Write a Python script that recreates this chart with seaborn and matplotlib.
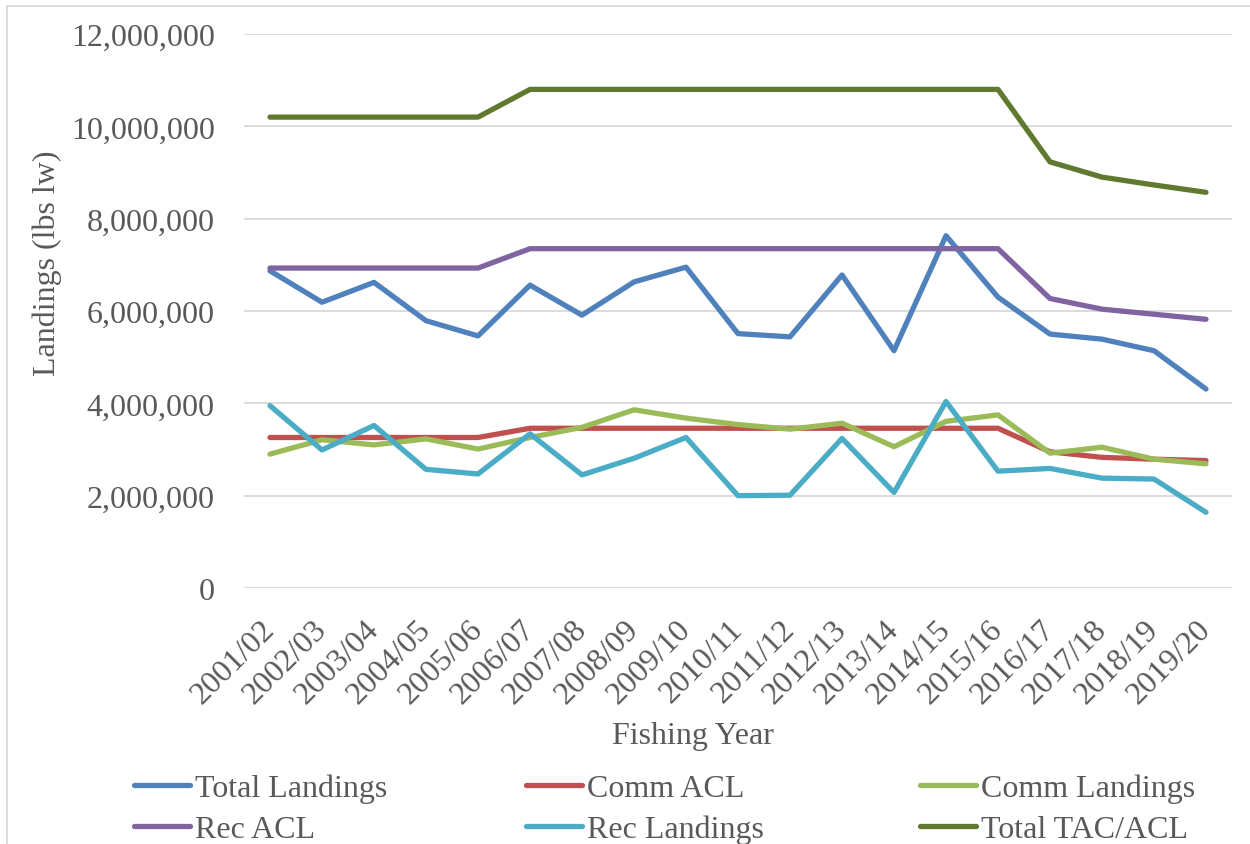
import pandas as pd
import matplotlib.pyplot as plt
import matplotlib.ticker as mticker
from matplotlib.lines import Line2D
from matplotlib.transforms import ScaledTranslation
import seaborn as sns

# Données (livres, poids vif)
annees = ['2001/02', '2002/03', '2003/04', '2004/05', '2005/06', '2006/07', '2007/08',
          '2008/09', '2009/10', '2010/11', '2011/12', '2012/13', '2013/14', '2014/15',
          '2015/16', '2016/17', '2017/18', '2018/19', '2019/20']

total_landings = [6870000, 6190000, 6620000, 5790000, 5460000, 6560000, 5910000, 6630000,
                  6950000, 5510000, 5440000, 6780000, 5140000, 7630000, 6300000, 5500000,
                  5390000, 5140000, 4310000]
comm_acl = [3260000, 3260000, 3260000, 3260000, 3260000, 3460000, 3460000, 3460000,
            3460000, 3460000, 3460000, 3460000, 3460000, 3460000, 3460000, 2950000,
            2830000, 2790000, 2760000]
comm_landings = [2900000, 3210000, 3100000, 3230000, 3010000, 3260000, 3480000, 3860000,
                 3680000, 3540000, 3440000, 3570000, 3060000, 3610000, 3750000, 2920000,
                 3050000, 2790000, 2690000]
rec_acl = [6930000, 6930000, 6930000, 6930000, 6930000, 7350000, 7350000, 7350000,
           7350000, 7350000, 7350000, 7350000, 7350000, 7350000, 7350000, 6270000,
           6040000, 5930000, 5820000]
rec_landings = [3950000, 2990000, 3520000, 2570000, 2470000, 3340000, 2450000, 2810000,
                3260000, 2000000, 2010000, 3240000, 2070000, 4040000, 2530000, 2590000,
                2380000, 2360000, 1640000]
total_tac = [10200000, 10200000, 10200000, 10200000, 10200000, 10800000, 10800000, 10800000,
             10800000, 10800000, 10800000, 10800000, 10800000, 10800000, 10800000, 9230000,
             8900000, 8730000, 8570000]

series = {
    "Total Landings": total_landings,
    "Comm ACL": comm_acl,
    "Comm Landings": comm_landings,
    "Rec ACL": rec_acl,
    "Rec Landings": rec_landings,
    "Total TAC/ACL": total_tac,
}
couleurs = {
    "Total Landings": "#4F81BD",
    "Comm ACL": "#C0504D",
    "Comm Landings": "#9BBB59",
    "Rec ACL": "#8064A2",
    "Rec Landings": "#4BACC6",
    "Total TAC/ACL": "#5F7A2F",
}

df = pd.DataFrame(series, index=annees).reset_index(names="annee")
df = df.melt(id_vars="annee", var_name="serie", value_name="valeur")

sns.set_style("white")
plt.rcParams['font.family'] = ['Liberation Serif', 'DejaVu Serif']
gris = "#595959"
taille = 23

fig = plt.figure(figsize=(12.5, 8.45), dpi=100)
ax = fig.add_axes([244 / 1250, 1 - 589 / 845, (1232 - 244) / 1250, (589 - 35) / 845])

sns.lineplot(data=df, x="annee", y="valeur", hue="serie", hue_order=list(series),
             palette=couleurs, linewidth=3.8, legend=False, ax=ax,
             solid_capstyle="round", solid_joinstyle="round")

ax.set_xlim(-0.5, len(annees) - 0.5)
ax.set_ylim(0, 12000000)
ax.yaxis.set_major_locator(mticker.MultipleLocator(2000000))
ax.yaxis.set_major_formatter(mticker.FuncFormatter(lambda v, p: f"{v:,.0f}"))
ax.grid(axis="y", color="#D9D9D9", linewidth=1.3)
ax.set_axisbelow(True)
for s in ax.spines.values():
    s.set_visible(False)

ax.tick_params(axis="y", length=0, pad=21, labelsize=taille, labelcolor=gris)
ax.tick_params(axis="x", length=0, pad=19, labelsize=taille, labelcolor=gris)
ax.set_xticks(range(len(annees)))
ax.set_xticklabels(annees, rotation=45, ha="right", va="top", rotation_mode="anchor")
decal = ScaledTranslation(-10 / 100, 0, fig.dpi_scale_trans)
for lab in ax.get_xticklabels():
    lab.set_transform(lab.get_transform() + decal)

ax.set_xlabel("")
ax.set_ylabel("")
fig.text(693 / 1250, 1 - 737 / 845, "Fishing Year", ha="center", va="center",
         fontsize=taille, color=gris)
fig.text(47 / 1250, 1 - 263 / 845, "Landings (lbs lw)", ha="center", va="center",
         rotation=90, fontsize=taille, color=gris)

# Légende en bas : trois colonnes de deux entrées
noms = list(series)
colonnes = [(134, [0, 3]), (526, [1, 4]), (920, [2, 5])]
for x0, idx in colonnes:
    poignees = [Line2D([0], [0], color=couleurs[noms[i]], linewidth=3.8,
                       solid_capstyle="round") for i in idx]
    fig.legend(poignees, [noms[i] for i in idx], loc="center left",
               bbox_to_anchor=(x0 / 1250, 1 - 810 / 845), frameon=False,
               fontsize=taille, labelcolor=gris, handlelength=1.75, handletextpad=0.15,
               labelspacing=0.35, borderpad=0, borderaxespad=0)

# Cadre gris du graphique
fig.add_artist(Line2D([7 / 1250, 7 / 1250], [0, 1 - 7 / 845], color="#D9D9D9",
                      linewidth=1.3, transform=fig.transFigure))
fig.add_artist(Line2D([7 / 1250, 1], [1 - 7 / 845, 1 - 7 / 845], color="#D9D9D9",
                      linewidth=1.3, transform=fig.transFigure))

plt.savefig("out.png", dpi=100)
